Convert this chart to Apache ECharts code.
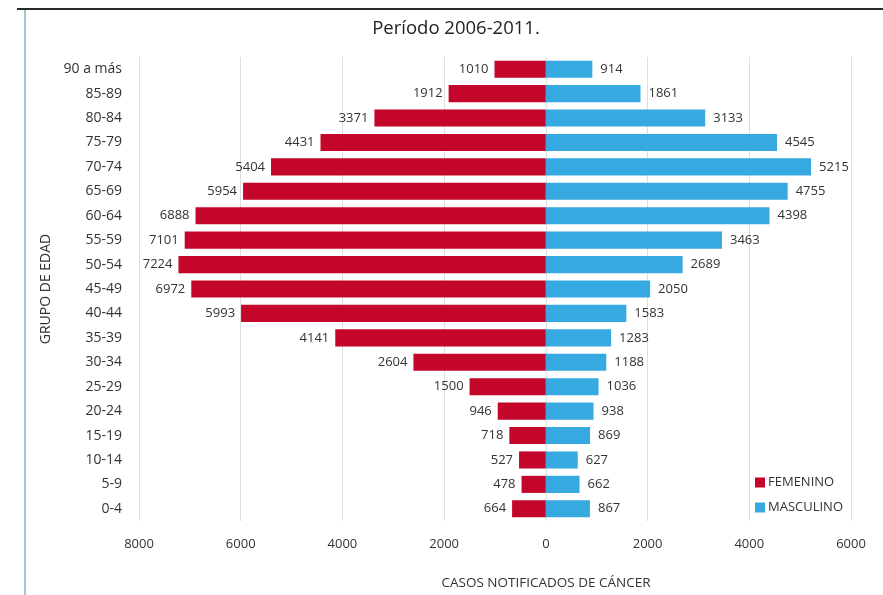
<!DOCTYPE html>
<html>
<head>
<meta charset="utf-8">
<script src="https://cdn.jsdelivr.net/npm/echarts@6/dist/echarts.min.js"></script>
<style>
  html, body { margin: 0; padding: 0; background: #ffffff; }
  #chart { width: 883px; height: 595px; }
</style>
</head>
<body>
<div id="chart"></div>
<script>
// Age groups, top to bottom
const ageGroups = ['90 a más', '85-89', '80-84', '75-79', '70-74', '65-69', '60-64', '55-59',
  '50-54', '45-49', '40-44', '35-39', '30-34', '25-29', '20-24', '15-19', '10-14', '5-9', '0-4'];

// Notified cancer cases by sex
const femenino = [1010, 1912, 3371, 4431, 5404, 5954, 6888, 7101, 7224, 6972, 5993, 4141, 2604, 1500, 946, 718, 527, 478, 664];
const masculino = [914, 1861, 3133, 4545, 5215, 4755, 4398, 3463, 2689, 2050, 1583, 1283, 1188, 1036, 938, 869, 627, 662, 867];

// Horizontal axis ticks
const xMin = -8000, xMax = 6000, xStep = 2000;

const FONT = '"Open Sans", "Noto Sans", sans-serif';
const chart = echarts.init(document.getElementById('chart'), null, { renderer: 'canvas' });

chart.setOption({
  backgroundColor: '#ffffff',
  animation: false,
  textStyle: { fontFamily: FONT },
  title: {
    text: 'Período 2006-2011.',
    left: 451, top: 14,
    textAlign: 'center',
    textStyle: { fontFamily: FONT, fontSize: 18.5, fontWeight: 'normal', color: '#222222' }
  },
  graphic: [
    { type: 'line', shape: { x1: 17, y1: 9, x2: 883, y2: 9 }, style: { stroke: '#2a2a2a', lineWidth: 2 }, silent: true },
    { type: 'line', shape: { x1: 25, y1: 10, x2: 25, y2: 595 }, style: { stroke: '#a9c3d2', lineWidth: 2 }, silent: true }
  ],
  legend: {
    orient: 'vertical',
    left: 750, top: 471,
    itemWidth: 10, itemHeight: 10, itemGap: 12,
    icon: 'rect',
    textStyle: { fontFamily: FONT, fontSize: 13, color: '#333333', padding: [0, 0, 0, -2] },
    data: ['FEMENINO', 'MASCULINO']
  },
  grid: { left: 139, right: 32, top: 57, bottom: 71, containLabel: false },
  xAxis: {
    type: 'value',
    min: xMin, max: xMax, interval: xStep,
    name: 'CASOS NOTIFICADOS DE CÁNCER',
    nameLocation: 'middle',
    nameGap: 55,
    nameTextStyle: { fontFamily: FONT, fontSize: 13.5, color: '#333333', padding: [0, 0, 0, 102] },
    axisLine: { show: false },
    axisTick: { show: false },
    axisLabel: {
      fontFamily: FONT, fontSize: 13, color: '#333333', margin: 17,
      formatter: v => String(Math.abs(v))
    },
    splitLine: { show: true, lineStyle: { color: '#dedede', width: 1 } }
  },
  yAxis: {
    type: 'category',
    inverse: true,
    data: ageGroups,
    name: 'GRUPO DE EDAD',
    nameLocation: 'middle',
    nameGap: 86,
    nameRotate: 90,
    nameTextStyle: { fontFamily: FONT, fontSize: 14, color: '#333333' },
    axisLine: { show: false },
    axisTick: { show: false },
    axisLabel: { fontFamily: FONT, fontSize: 14, color: '#333333', margin: 17 }
  },
  series: [
    {
      name: 'FEMENINO',
      type: 'bar',
      barWidth: '70%',
      barGap: '-100%',
      itemStyle: { color: '#c4062b' },
      label: {
        show: true, position: 'left', distance: 6,
        fontFamily: FONT, fontSize: 13, color: '#333333',
        formatter: p => String(Math.abs(p.value))
      },
      data: femenino.map(v => -v)
    },
    {
      name: 'MASCULINO',
      type: 'bar',
      barWidth: '70%',
      barGap: '-100%',
      itemStyle: { color: '#36a9e1' },
      label: {
        show: true, position: 'right', distance: 8,
        fontFamily: FONT, fontSize: 13, color: '#333333'
      },
      data: masculino
    }
  ]
});
</script>
</body>
</html>
